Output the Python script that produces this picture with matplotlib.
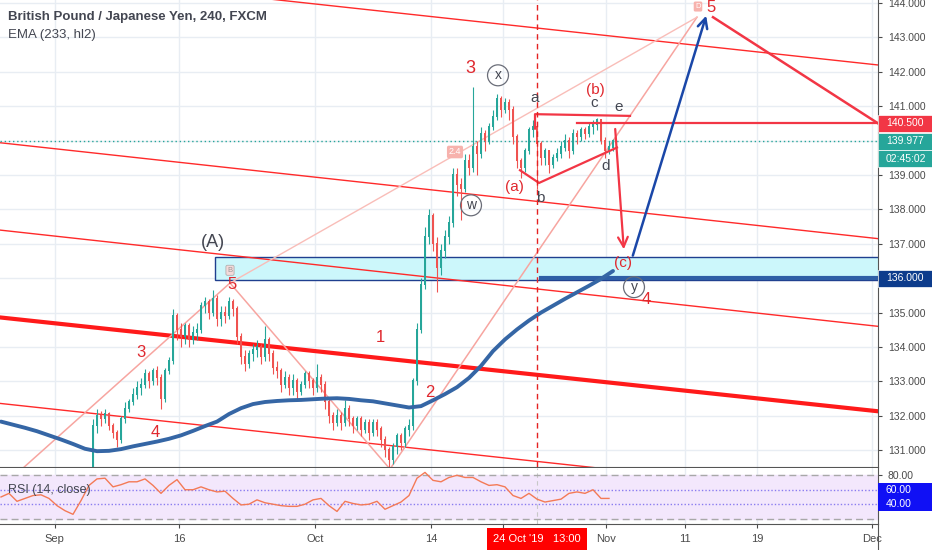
import matplotlib
matplotlib.use('Agg')
import matplotlib.pyplot as plt
import matplotlib.transforms as mtransforms
from matplotlib.patches import Rectangle
from matplotlib.lines import Line2D
import numpy as np

plt.rcParams['font.family'] = ['Liberation Sans', 'DejaVu Sans']

# GBPJPY candles (one per 8h), open = previous close
first_open = 130.0
closes = [131.7, 132.0, 131.9, 132.05, 131.7, 131.5, 131.3, 131.9, 132.2, 132.4,
          132.6, 132.8, 132.9, 133.2, 133.0, 133.3, 133.1, 132.5, 133.3, 133.6,
          134.9, 134.5, 134.3, 134.6, 134.2, 134.4, 134.5, 135.2, 135.3, 135.0,
          135.4, 134.8, 135.0, 134.9, 135.3, 135.1, 134.3, 133.7, 133.5, 133.8,
          133.9, 134.0, 133.7, 134.2, 133.8, 133.4, 133.3, 132.9, 133.1, 132.8,
          133.0, 132.7, 132.9, 133.2, 133.0, 132.8, 133.1, 132.9, 132.4, 132.0,
          131.8, 132.0, 131.8, 132.2, 131.9, 131.7, 131.9, 131.6, 131.8, 131.5,
          131.8, 131.6, 131.3, 131.0, 130.7, 131.1, 131.4, 131.2, 131.6, 131.7,
          133.0, 134.5, 135.8, 137.2, 137.8, 137.0, 136.3, 136.8, 137.2, 137.6,
          139.0, 138.7, 138.6, 139.4, 139.2, 139.8, 139.6, 140.2, 140.0, 140.4,
          140.7, 141.2, 140.9, 141.1, 140.9, 140.1, 139.4, 139.2, 139.7, 140.3,
          140.4, 139.9, 139.5, 139.7, 139.3, 139.5, 139.6, 139.8, 140.0, 139.7,
          140.2, 140.1, 140.3, 140.2, 140.4, 140.45, 140.6, 140.0, 139.7, 139.8,
          139.977]
highs = [131.9, 132.2, 132.15, 132.2, 132.1, 131.8, 131.6, 132.0, 132.4, 132.5,
         132.8, 133.0, 133.1, 133.35, 133.3, 133.4, 133.45, 133.2, 133.4, 133.7,
         135.1, 135.0, 134.7, 134.7, 134.7, 134.6, 134.7, 135.3, 135.45, 135.4,
         135.65, 135.5, 135.2, 135.2, 135.45, 135.4, 135.2, 134.4, 133.9, 133.9,
         134.1, 134.2, 134.1, 134.6, 134.3, 133.9, 133.6, 133.4, 133.3, 133.2,
         133.2, 133.1, 133.0, 133.3, 133.3, 133.1, 133.5, 133.2, 133.0, 132.5,
         132.1, 132.2, 132.1, 132.45, 132.3, 132.0, 132.0, 132.0, 131.9, 131.9,
         131.9, 131.9, 131.7, 131.4, 131.1, 131.2, 131.5, 131.5, 131.7, 131.9,
         133.1, 134.7, 136.0, 137.5, 138.0, 137.9, 137.2, 137.0, 137.4, 137.8,
         139.2, 139.2, 138.9, 139.6, 139.6, 141.55, 140.0, 140.4, 140.3, 140.5,
         140.9, 141.35, 141.3, 141.25, 141.2, 141.0, 140.2, 139.5, 139.8, 140.4,
         140.6, 140.5, 140.0, 139.8, 139.7, 139.6, 139.8, 140.0, 140.2, 140.1,
         140.35, 140.3, 140.4, 140.4, 140.5, 140.6, 140.67, 140.6, 140.1, 140.0,
         140.05]
lows = [129.9, 131.5, 131.7, 131.8, 131.6, 131.35, 131.1, 131.2, 131.8, 132.1,
        132.3, 132.5, 132.6, 132.8, 132.8, 132.9, 132.9, 132.2, 132.4, 133.2,
        133.5, 134.2, 134.0, 134.1, 134.0, 134.1, 134.2, 134.4, 135.0, 134.8,
        134.9, 134.6, 134.6, 134.7, 134.8, 134.9, 134.1, 133.5, 133.3, 133.4,
        133.6, 133.7, 133.5, 133.6, 133.6, 133.2, 133.1, 132.7, 132.8, 132.6,
        132.6, 132.5, 132.6, 132.8, 132.8, 132.6, 132.7, 132.7, 132.2, 131.8,
        131.6, 131.7, 131.6, 131.7, 131.7, 131.5, 131.6, 131.4, 131.5, 131.3,
        131.4, 131.4, 131.1, 130.8, 130.45, 130.6, 130.9, 131.0, 131.1, 131.4,
        131.6, 132.9, 134.4, 135.7, 137.0, 136.8, 135.6, 136.1, 136.6, 137.0,
        137.5, 138.4, 137.7, 138.5, 139.0, 139.1, 139.0, 139.5, 139.7, 139.9,
        140.3, 140.6, 140.7, 140.8, 140.6, 139.9, 139.2, 138.9, 139.1, 139.6,
        140.1, 138.6, 139.3, 139.3, 139.05, 139.2, 139.4, 139.5, 139.7, 139.5,
        139.6, 139.9, 140.0, 140.05, 140.1, 140.2, 140.3, 139.9, 139.5, 139.6,
        139.7]

# EMA(233, hl2), one value every 3 bars starting 23 bars before the first candle
ema_start, ema_step = -23, 3
ema_233 = [131.83, 131.74, 131.65, 131.55, 131.43, 131.31, 131.18, 131.04, 130.97, 130.98,
           131.03, 131.11, 131.18, 131.25, 131.33, 131.43, 131.56, 131.70, 131.83, 132.05,
           132.22, 132.34, 132.40, 132.43, 132.45, 132.46, 132.48, 132.50, 132.51, 132.49,
           132.45, 132.42, 132.36, 132.30, 132.24, 132.28, 132.45, 132.63, 132.83, 133.10,
           133.45, 133.88, 134.22, 134.51, 134.77, 135.00, 135.20, 135.40, 135.59, 135.78,
           135.98, 136.21]

# RSI(14, close), one value every 2 bars
rsi_start, rsi_step = -23, 2
rsi_14 = [50, 55, 44, 48, 52, 53, 48, 38, 31, 26,
          45, 66, 75, 76, 64, 67, 71, 71, 75, 66,
          55, 66, 74, 60, 60, 64, 60, 57, 58, 48,
          39, 40, 46, 42, 40, 38, 37, 37, 40, 46,
          48, 38, 30, 44, 41, 39, 40, 44, 33, 38,
          43, 52, 76, 84, 73, 71, 77, 80, 77, 77,
          71, 66, 67, 64, 52, 48, 55, 47, 43, 45,
          47, 55, 57, 55, 60, 48, 48]

# "21" sits under the red cursor label, so only its grid line shows
date_labels = ['Sep', '16', 'Oct', '14', '', 'Nov', '11', '19', 'Dec']
date_pos = [-9.6, 21.6, 55.6, 84.5, 102.5, 128.25, 148, 166, 194.75]
price_ticks = np.arange(131, 145)

# drawings on the chart, in (bar, price)
channel_lines = [((40, 144.17), (196.3, 142.20)),
                 ((-23.3, 139.94), (196.3, 137.15)),
                 ((-23.3, 137.40), (196.3, 134.60)),
                 ((-23.3, 132.36), (196.3, 129.60))]
main_channel = ((-23.3, 134.86), (196.3, 132.13))
wave_path = [(-19.5, 130.27), (34.25, 135.86), (74.25, 130.45), (151, 143.59)]
wave_link = [(34.25, 135.86), (151, 143.59)]
triangle_top = [(110.5, 140.35), (110.5, 140.77), (134.25, 140.72)]
triangle_bottom = [(106.75, 139.14), (111.5, 138.77), (131, 139.80)]
target_line = [(155, 143.59), (196.3, 140.5)]
level_1405 = (121, 140.5)
drop_arrow = ((130.5, 140.42), (132.75, 136.76))
rise_arrow = ((134.75, 136.58), (153.5, 143.71))
zone = (30.5, 135.96, 136.61)
support = (112, 136.0)
cursor_bar = 111
last_price = 139.977

red_labels = [('5', 34.75, 135.83, 12), ('3', 12, 133.85, 12), ('4', 15.5, 131.52, 12),
              ('1', 71.75, 134.28, 12), ('2', 84.25, 132.68, 12), ('3', 94.25, 142.11, 13),
              ('(b)', 125.5, 141.47, 11), ('(a)', 105.25, 138.65, 11), ('(c)', 132.5, 136.44, 11),
              ('4', 138.25, 135.39, 12)]
dark_labels = [('(A)', 30, 137.05, 13), ('a', 110.5, 141.24, 11), ('c', 125.25, 141.09, 11),
               ('e', 131.5, 140.97, 11), ('b', 111.75, 138.33, 11), ('d', 128.25, 139.26, 11)]
circle_labels = [('x', 101.25, 141.9), ('w', 94.5, 138.12), ('y', 135.25, 135.74)]

RED = '#f23645'
DARK = '#434651'
GRID = '#e8edf3'
GREEN = '#26a69a'

fig = plt.figure(figsize=(9.32, 5.5), dpi=100)
ax = fig.add_axes([0, 83 / 550, 878 / 932, 467 / 550])
ax_rsi = fig.add_axes([0, 26 / 550, 878 / 932, 56 / 550], sharex=ax)

xmin, xmax = -23.25, 196.25
ax.set_xlim(xmin, xmax)
ax.set_ylim(130.51, 144.09)

# grid
for p in price_ticks:
    ax.axhline(p, color=GRID, lw=1, zorder=0)
for d in date_pos:
    ax.axvline(d, color=GRID, lw=1, zorder=0)
    ax_rsi.axvline(d, color=GRID, lw=1, zorder=0)

# candles
o = np.array([first_open] + closes[:-1])
c = np.array(closes)
h = np.maximum(np.array(highs), np.maximum(o, c))
l = np.minimum(np.array(lows), np.minimum(o, c))
xs = np.arange(len(c))
cols = np.where(c >= o, GREEN, '#ef5350')
ax.vlines(xs, l, h, colors=cols, lw=0.8, zorder=3)
ax.bar(xs, np.abs(c - o) + 0.03, bottom=np.minimum(o, c), width=0.62, color=cols, zorder=4)

# EMA
ema_x = ema_start + ema_step * np.arange(len(ema_233))
ax.plot(ema_x, ema_233, color='#3566a5', lw=2.8, zorder=5, solid_capstyle='round')

# support zone and level
ax.add_patch(Rectangle((zone[0], zone[1]), xmax + 5 - zone[0], zone[2] - zone[1],
                       fc='#ccf7fb', ec='#1f3f8f', lw=1, zorder=1))
ax.plot([support[0], xmax + 5], [support[1], support[1]], color='#2f5fa6', lw=3, zorder=2)

# channel lines
for (x0, y0), (x1, y1) in channel_lines:
    ax.plot([x0, x1], [y0, y1], color='#ff2a2a', lw=1, zorder=2)
ax.plot(*zip(*main_channel), color='#ff1a1a', lw=3, zorder=2)

# wave drawings
ax.plot(*zip(*wave_path), color='#f7a5a0', lw=1.1, zorder=2)
ax.plot(*zip(*wave_link), color='#f9bdb8', lw=1, zorder=2)
ax.plot(*zip(*triangle_top), color=RED, lw=1.6, zorder=6)
ax.plot(*zip(*triangle_bottom), color=RED, lw=1.6, zorder=6)
ax.plot(*zip(*target_line), color=RED, lw=1.8, zorder=6)
ax.plot([level_1405[0], xmax + 5], [level_1405[1]] * 2, color=RED, lw=1.6, zorder=6)
ax.annotate('', xy=drop_arrow[1], xytext=drop_arrow[0],
            arrowprops=dict(arrowstyle='->,head_length=0.7,head_width=0.35', color=RED, lw=1.6),
            zorder=6)
ax.annotate('', xy=rise_arrow[1], xytext=rise_arrow[0],
            arrowprops=dict(arrowstyle='->,head_length=0.7,head_width=0.35', color='#1a47a8', lw=1.8),
            zorder=6)

ax.axhline(last_price, color=GREEN, lw=1, ls=(0, (1, 2)), zorder=2)
ax.axvline(cursor_bar, color='#e52222', lw=1, ls=(0, (4, 3)), zorder=6)
ax_rsi.axvline(cursor_bar, color='#c8c8c8', lw=0.8, ls=(0, (4, 3)), zorder=1)

for txt, bx, py, fs in red_labels:
    ax.text(bx, py, txt, color='#e0282e', fontsize=fs, ha='center', va='center', zorder=7)
# the top wave 5 sits right under the upper edge
ax.text(154.5, 144.09, '5', color='#e0282e', fontsize=12, ha='center', va='top', zorder=7)
for txt, bx, py, fs in dark_labels:
    ax.text(bx, py, txt, color=DARK, fontsize=fs, ha='center', va='center', zorder=7)
for txt, bx, py in circle_labels:
    ax.text(bx, py, txt, color=DARK, fontsize=10, ha='center', va='center', zorder=7,
            bbox=dict(boxstyle='circle,pad=0.25', fc='none', ec='#6a6d78', lw=0.9))
ax.text(34.25, 136.23, 'B', color='#9a9a9a', fontsize=5.5, ha='center', va='center', zorder=7,
        bbox=dict(boxstyle='round,pad=0.2', fc='#f4d9d9', ec='#b0b0b0', lw=0.6))
ax.text(151.25, 143.9, 'D', color='white', fontsize=5.5, ha='center', va='center', zorder=7,
        bbox=dict(boxstyle='round,pad=0.2', fc='#f7b2ad', ec='none'))
ax.text(90.5, 139.67, '2.4', color='white', fontsize=6.5, ha='center', va='center', zorder=2,
        bbox=dict(boxstyle='round,pad=0.2', fc='#f7b2ad', ec='none'))

# titles
ax.text(8 / 878, 1 - 17 / 467, 'British Pound / Japanese Yen, 240, FXCM', transform=ax.transAxes,
        fontsize=9.5, color=DARK, fontweight='bold', va='center', zorder=8)
ax.text(8 / 878, 1 - 35 / 467, 'EMA (233, hl2)', transform=ax.transAxes,
        fontsize=9.5, color=DARK, va='center', zorder=8)

# price axis
ax.yaxis.tick_right()
ax.set_yticks(price_ticks)
ax.set_yticklabels([f'{p:.3f}' for p in price_ticks])
ax.tick_params(axis='y', labelsize=7.5, labelcolor='#4a4a4a', color='#4a4a4a', length=3, pad=4)
ax.tick_params(axis='x', bottom=False, labelbottom=False)
for s in ['top', 'left']:
    ax.spines[s].set_visible(False)
ax.spines['right'].set_color('#555555')
ax.spines['bottom'].set_color('#555555')

tr = mtransforms.blended_transform_factory(ax.transAxes, ax.transData)
tag_w = 54 / 878
for val, txt, fc, hh in [(140.5, '140.500', '#f23645', 0.5), (139.977, '139.977', GREEN, 0.5),
                         (139.477, '02:45:02', GREEN, 0.48), (136.0, '136.000', '#0d3c8c', 0.5)]:
    ax.add_patch(Rectangle((1.0, val - hh / 2), tag_w, hh, transform=tr, fc=fc, ec='white',
                           lw=0.5, clip_on=False, zorder=10))
    ax.text(1.0 + 8 / 878, val, txt, transform=tr, fontsize=7.5, color='white', va='center',
            ha='left', clip_on=False, zorder=11)

# RSI panel
rsi_x = rsi_start + rsi_step * np.arange(len(rsi_14))
ax_rsi.set_ylim(12.6, 90.1)
ax_rsi.axhspan(20, 80, color='#f3e7fc', zorder=0)
ax_rsi.axhline(80, color='#a8a8a8', lw=1, ls=(0, (5, 3)), zorder=1)
ax_rsi.axhline(20, color='#a8a8a8', lw=1, ls=(0, (5, 3)), zorder=1)
ax_rsi.axhline(60, color='#8a7cf0', lw=1, ls=(0, (1, 1.5)), zorder=1)
ax_rsi.axhline(40, color='#8a7cf0', lw=1, ls=(0, (1, 1.5)), zorder=1)
ax_rsi.plot(rsi_x, rsi_14, color='#f47a56', lw=1, zorder=3)
ax_rsi.text(8 / 878, 60, 'RSI (14, close)', transform=mtransforms.blended_transform_factory(
    ax_rsi.transAxes, ax_rsi.transData), fontsize=9, color=DARK, va='center')
ax_rsi.yaxis.tick_right()
ax_rsi.set_yticks([40, 60, 80])
ax_rsi.set_yticklabels(['', '', '80.00'])
ax_rsi.tick_params(axis='y', labelsize=7.5, labelcolor='#4a4a4a', color='#4a4a4a', length=3, pad=4)
tr2 = mtransforms.blended_transform_factory(ax_rsi.transAxes, ax_rsi.transData)
ax_rsi.add_patch(Rectangle((1.0, 30.4), tag_w, 38.9, transform=tr2, fc='#1010f5', ec='none',
                           clip_on=False, zorder=10))
for v in [60, 40]:
    ax_rsi.text(1.0 + 8 / 878, v, f'{v:.2f}', transform=tr2, fontsize=7.5, color='white',
                va='center', ha='left', clip_on=False, zorder=11)

ax_rsi.set_xticks(date_pos)
ax_rsi.set_xticklabels(date_labels)
ax_rsi.tick_params(axis='x', labelsize=8, labelcolor='#4a4a4a', color='#4a4a4a', length=3, pad=4)
for s in ['top', 'left']:
    ax_rsi.spines[s].set_visible(False)
ax_rsi.spines['right'].set_color('#555555')
ax_rsi.spines['bottom'].set_color('#555555')

# price-scale border carries on through the date strip
fig.add_artist(Line2D([878 / 932, 878 / 932], [0, 26 / 550], transform=fig.transFigure,
                      color='#555555', lw=0.8))

fig.text(537 / 932, 1 - 539 / 550, "24 Oct '19   13:00", ha='center', va='center', color='white',
         fontsize=8, bbox=dict(boxstyle='square,pad=0.55', fc='#ff0000', ec='none'), zorder=20)

fig.savefig('out.png', dpi=100, facecolor='white')
